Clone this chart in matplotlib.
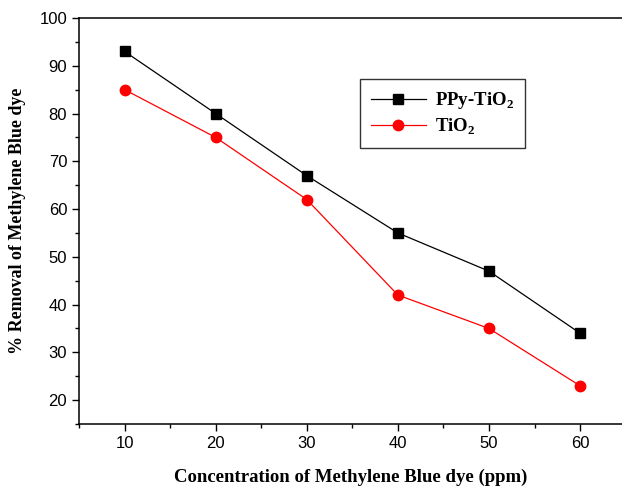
import matplotlib
matplotlib.use("Agg")
import matplotlib.pyplot as plt
from matplotlib.ticker import MultipleLocator

conc = [10, 20, 30, 40, 50, 60]
ppy_tio2 = [93, 80, 67, 55, 47, 34]
tio2 = [85, 75, 62, 42, 35, 23]

plt.rcParams['mathtext.fontset'] = 'custom'
plt.rcParams['mathtext.rm'] = 'Liberation Serif:bold'
plt.rcParams['mathtext.bf'] = 'Liberation Serif:bold'

fig = plt.figure(figsize=(6.22, 4.88), dpi=100)
ax = fig.add_axes([79/622, 1-424/488, 1-79/622, (424-18)/488])

ax.plot(conc, ppy_tio2, color='black', lw=0.9, marker='s', ms=6.5,
        label=r'PPy-TiO$_\mathbf{2}$')
ax.plot(conc, tio2, color='red', lw=0.9, marker='o', ms=7.5,
        label=r'TiO$_\mathbf{2}$')

ax.set_xlim(5, 64.6)
ax.set_ylim(15, 100)
ax.xaxis.set_major_locator(MultipleLocator(10))
ax.xaxis.set_minor_locator(MultipleLocator(5))
ax.yaxis.set_major_locator(MultipleLocator(10))
ax.yaxis.set_minor_locator(MultipleLocator(5))
ax.tick_params(which='major', direction='out', length=5, width=1,
               labelsize=12, labelfontfamily='Liberation Sans')
ax.tick_params(which='minor', direction='out', length=3, width=1)
ax.set_yticks([20, 30, 40, 50, 60, 70, 80, 90, 100])
ax.spines['right'].set_visible(False)
for s in ['left', 'bottom', 'top']:
    ax.spines[s].set_linewidth(1.1)

ax.set_xlabel('Concentration of Methylene Blue dye (ppm)', labelpad=13,
              family='Liberation Serif', weight='bold', size=13.5)
ax.set_ylabel('% Removal of Methylene Blue dye', labelpad=10,
              family='Liberation Serif', weight='bold', size=13)

leg = ax.legend(loc='upper left', bbox_to_anchor=((360-79)/543, 1-(79-18)/406),
                borderaxespad=0,
                prop=dict(family='Liberation Serif', weight='bold', size=13.5),
                frameon=True, fancybox=False, edgecolor='black',
                handlelength=2.9, handletextpad=0.5, borderpad=0.6,
                labelspacing=0.3)
leg.get_frame().set_linewidth(1.0)

fig.savefig('out.png', dpi=100)
